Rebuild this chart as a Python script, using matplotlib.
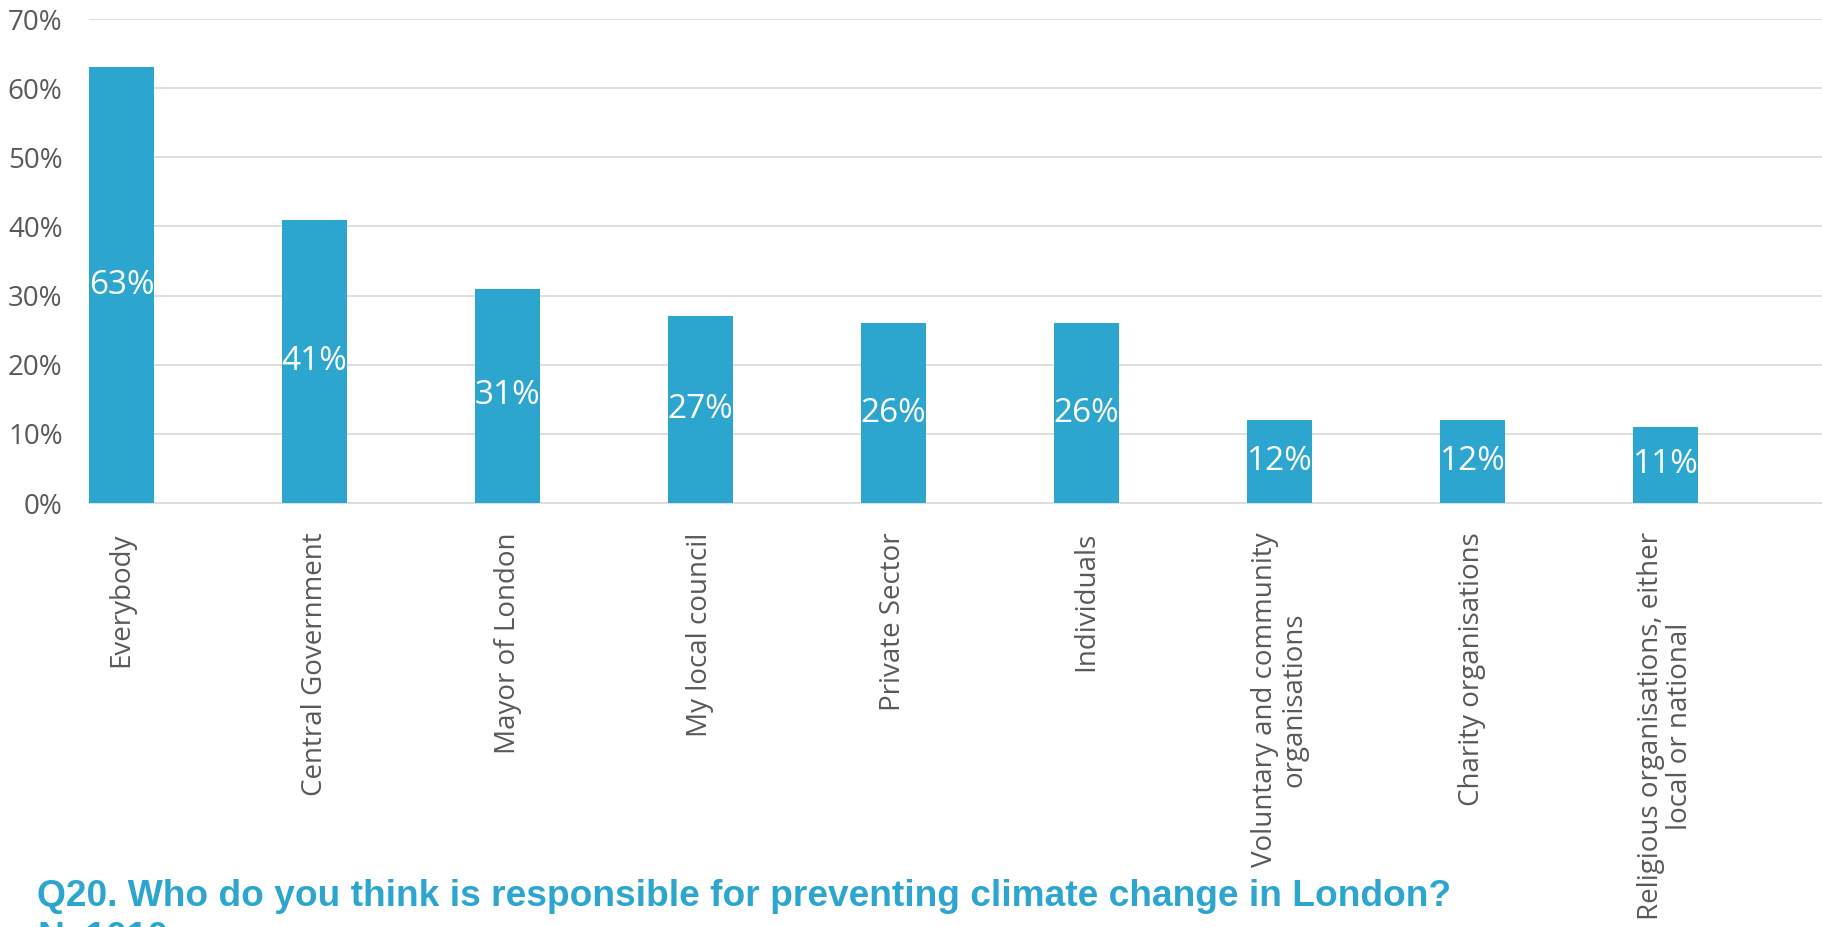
import matplotlib
matplotlib.use("Agg")
import matplotlib.pyplot as plt
from matplotlib.ticker import FuncFormatter

categories = ["Everybody", "Central Government", "Mayor of London", "My local council",
              "Private Sector", "Individuals", "Voluntary and community\norganisations",
              "Charity organisations", "Religious organisations, either\nlocal or national"]
values = [63, 41, 31, 27, 26, 26, 12, 12, 11]

title = "Q20. Who do you think is responsible for preventing climate change in London?"
subtitle = "N=1010"

blue = "#2ca5cf"
grey_text = "#595959"
grid_col = "#d9d9d9"

plt.rcParams['font.family'] = ['Open Sans', 'DejaVu Sans']

W, H = 1822, 927
fig = plt.figure(figsize=(W / 100, H / 100), dpi=100)
ax = fig.add_axes([89 / W, (H - 503) / H, (W - 89) / W, (503 - 19) / H])

bw = 65 / 193
x = list(range(len(values)))
bars = ax.bar(x, values, width=bw, color=blue, zorder=3)

for xi, v in zip(x, values):
    ax.text(xi, v / 2, "%d%%" % v, ha="center", va="center", color="white", fontsize=24, zorder=4)

ax.set_ylim(0, 70)
ax.set_xlim(-bw / 2, (W - 121.5) / 193)
ax.set_yticks(range(0, 71, 10))
ax.yaxis.set_major_formatter(FuncFormatter(lambda v, p: "%d%%" % v))
ax.yaxis.grid(True, color=grid_col, linewidth=1.2, zorder=0)
ax.set_axisbelow(True)

ax.set_xticks(x)
ax.set_xticklabels(categories, rotation=90, multialignment="center", linespacing=1.05)
ax.tick_params(axis="x", length=0, pad=21, labelsize=20, labelcolor=grey_text)
ax.tick_params(axis="y", length=0, pad=19, labelsize=20, labelcolor=grey_text)

for s in ["top", "right", "left"]:
    ax.spines[s].set_visible(False)
ax.spines["bottom"].set_color(grid_col)
ax.spines["bottom"].set_linewidth(1.2)

fig.text(37 / W, (H - 906) / H, title, fontsize=26.7, fontweight="bold", color=blue,
         family="Liberation Sans", va="baseline", ha="left")
fig.text(37 / W, (H - 921) / H, subtitle, fontsize=26.7, fontweight="bold", color=blue,
         family="Liberation Sans", va="top", ha="left")

fig.savefig("out.png", dpi=100)
